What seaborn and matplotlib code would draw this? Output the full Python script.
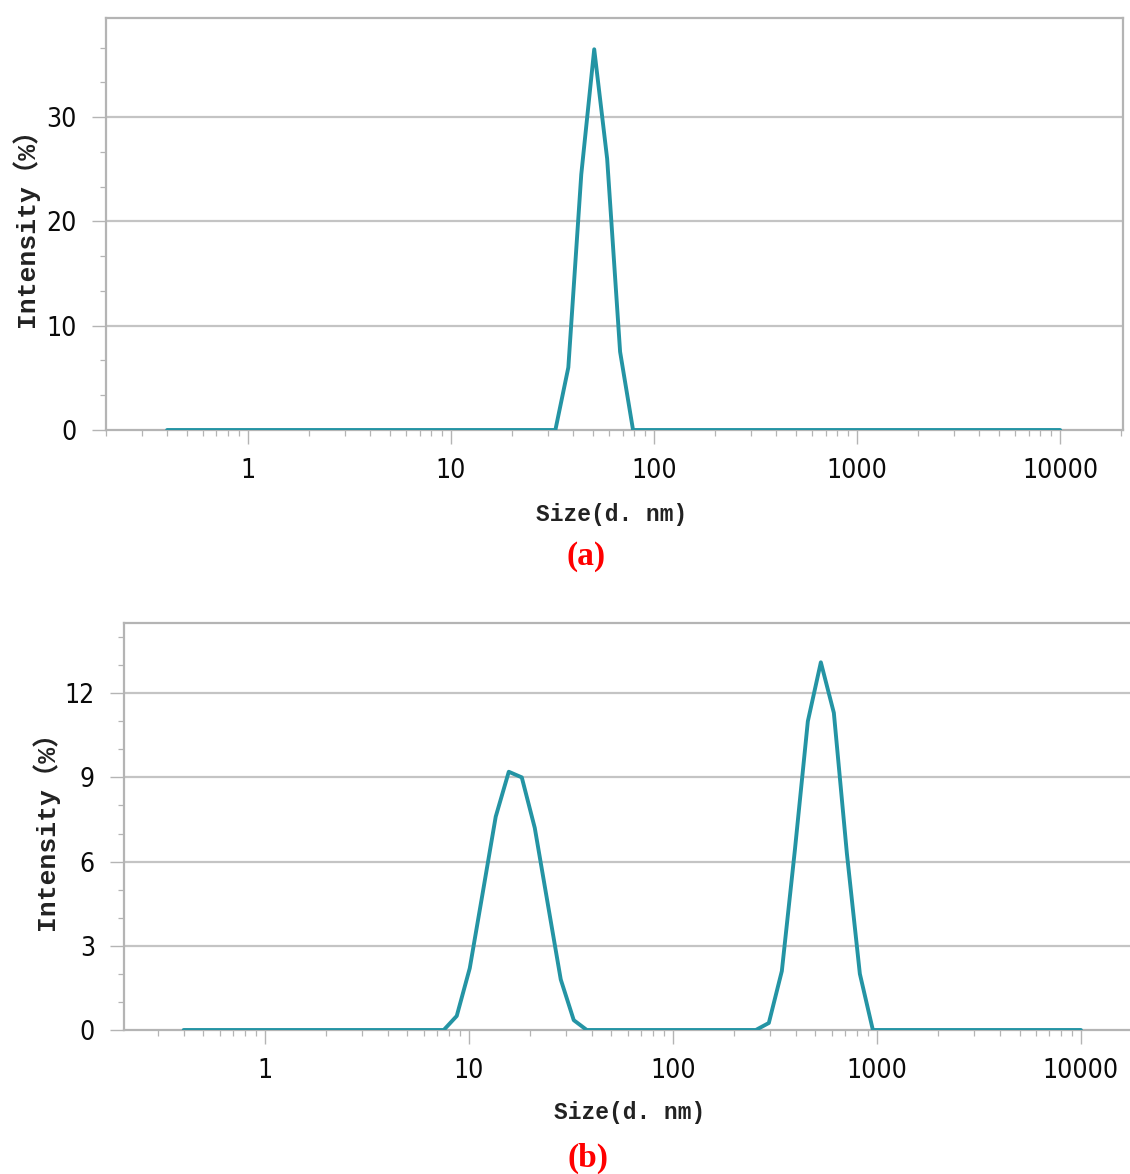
import matplotlib
matplotlib.use("Agg")
import matplotlib.pyplot as plt
import seaborn as sns
import pandas as pd
from matplotlib.ticker import FixedLocator, MultipleLocator, LogLocator, NullFormatter
from matplotlib import font_manager

# ---- data (Malvern-style size bins, nm) ----
size_nm = [0.4000, 0.4632, 0.5365, 0.6213, 0.7195, 0.8332, 0.9649, 1.117, 1.294, 1.499,
           1.736, 2.010, 2.328, 2.696, 3.122, 3.615, 4.187, 4.849, 5.615, 6.503,
           7.531, 8.721, 10.10, 11.70, 13.54, 15.69, 18.17, 21.04, 24.36, 28.21,
           32.67, 37.84, 43.82, 50.75, 58.77, 68.06, 78.82, 91.28, 105.7, 122.4,
           141.8, 164.2, 190.1, 220.2, 255.0, 295.3, 342.0, 396.1, 458.7, 531.2,
           615.1, 712.4, 825.0, 955.4, 1106, 1281, 1484, 1718, 1990, 2305,
           2669, 3091, 3580, 4145, 4801, 5560, 6439, 7456, 8635, 10000]

intensity_a = [0, 0, 0, 0, 0, 0, 0, 0, 0, 0,
               0, 0, 0, 0, 0, 0, 0, 0, 0, 0,
               0, 0, 0, 0, 0, 0, 0, 0, 0, 0,
               0, 6.0, 24.5, 36.5, 26.0, 7.5, 0, 0, 0, 0,
               0, 0, 0, 0, 0, 0, 0, 0, 0, 0,
               0, 0, 0, 0, 0, 0, 0, 0, 0, 0,
               0, 0, 0, 0, 0, 0, 0, 0, 0, 0]

intensity_b = [0, 0, 0, 0, 0, 0, 0, 0, 0, 0,
               0, 0, 0, 0, 0, 0, 0, 0, 0, 0,
               0, 0.5, 2.2, 4.9, 7.6, 9.2, 9.0, 7.2, 4.5, 1.8,
               0.35, 0, 0, 0, 0, 0, 0, 0, 0, 0,
               0, 0, 0, 0, 0, 0.25, 2.1, 6.4, 11.0, 13.1,
               11.3, 6.3, 2.0, 0, 0, 0, 0, 0, 0, 0,
               0, 0, 0, 0, 0, 0, 0, 0, 0, 0]

xticks = [1, 10, 100, 1000, 10000]
xtick_labels = ["1", "10", "100", "1000", "10000"]
yticks_a = [0, 10, 20, 30]
yticks_b = [0, 3, 6, 9, 12]
panel_labels = ["(a)", "(b)"]
x_label = "Size(d. nm)"
y_label = "Intensity（%）"

# ---- style ----
sns.set_style("white")
plt.rcParams['font.family'] = ['DejaVu Sans']

tick_font = font_manager.FontProperties(family='DejaVu Sans', stretch='condensed', size=19)

line_color = "#2494a4"
grid_color = "#c4c4c4"
spine_color = "#b4b4b4"

W, H = 1130, 1174
fig = plt.figure(figsize=(W / 100, H / 100), dpi=100)

def frac_rect(left, top, right, bottom):
    return [left / W, 1 - bottom / H, (right - left) / W, (bottom - top) / H]

ax_a = fig.add_axes(frac_rect(106, 18, 1123, 430))
ax_b = fig.add_axes(frac_rect(124, 623, 1130, 1030))

df_a = pd.DataFrame({"size": size_nm, "intensity": intensity_a})
df_b = pd.DataFrame({"size": size_nm, "intensity": intensity_b})

configs = [
    (ax_a, df_a, yticks_a, 10 / 3, (0.2, 20400), (0, 39.5), True),
    (ax_b, df_b, yticks_b, 1, (0.204, 17400), (0, 14.5), False),
]

for ax, df, yt, yminor, xlim, ylim, right_spine in configs:
    sns.lineplot(data=df, x="size", y="intensity", ax=ax, color=line_color,
                 linewidth=2.8, zorder=3)
    ax.set_xscale("log")
    ax.set_xlim(*xlim)
    ax.set_ylim(*ylim)
    ax.xaxis.set_major_locator(FixedLocator(xticks))
    ax.set_xticklabels(xtick_labels, fontproperties=tick_font, color="#0a0a0a")
    ax.xaxis.set_minor_locator(LogLocator(base=10, subs=range(2, 10), numticks=20))
    ax.xaxis.set_minor_formatter(NullFormatter())
    ax.yaxis.set_major_locator(FixedLocator(yt))
    ax.set_yticklabels([str(v) for v in yt], fontproperties=tick_font, color="#0a0a0a")
    ax.yaxis.set_minor_locator(MultipleLocator(yminor))
    ax.grid(False)
    for v in yt[1:]:
        ax.axhline(v, color=grid_color, linewidth=1.6, zorder=1)
    ax.tick_params(axis="both", which="both", bottom=True, left=True, top=False, right=False)
    ax.tick_params(axis="both", which="major", direction="out", color=spine_color,
                   width=1.0)
    ax.tick_params(axis="x", which="major", length=10, pad=10)
    ax.tick_params(axis="y", which="major", length=10, pad=11)
    ax.tick_params(axis="both", which="minor", direction="out", color=spine_color,
                   width=0.9, length=4)
    for side in ["left", "bottom", "top", "right"]:
        ax.spines[side].set_color(spine_color)
        ax.spines[side].set_linewidth(1.6)
    ax.spines["right"].set_visible(right_spine)
    ax.set_xlabel("")
    ax.set_ylabel("")

mono = ['Liberation Mono', 'Noto Sans CJK SC', 'DejaVu Sans']

fig.text(25 / W, 1 - 221 / H, y_label, rotation=90, ha="center", va="center",
         fontsize=19, fontweight="bold", family=mono, color="#222222")
fig.text(45 / W, 1 - 824 / H, y_label, rotation=90, ha="center", va="center",
         fontsize=19, fontweight="bold", family=mono, color="#222222")
fig.text(612 / W, 1 - 515 / H, x_label, ha="center", va="center",
         fontsize=16.5, fontweight="bold", family=mono, color="#222222")
fig.text(630 / W, 1 - 1113 / H, x_label, ha="center", va="center",
         fontsize=16.5, fontweight="bold", family=mono, color="#222222")
fig.text(586 / W, 1 - 557 / H, panel_labels[0], ha="center", va="center",
         fontsize=24, fontweight="bold", family=['Liberation Serif'], color="#ff0000")
fig.text(588 / W, 1 - 1158 / H, panel_labels[1], ha="center", va="center",
         fontsize=24, fontweight="bold", family=['Liberation Serif'], color="#ff0000")

fig.savefig("out.png", dpi=100, facecolor="white")
